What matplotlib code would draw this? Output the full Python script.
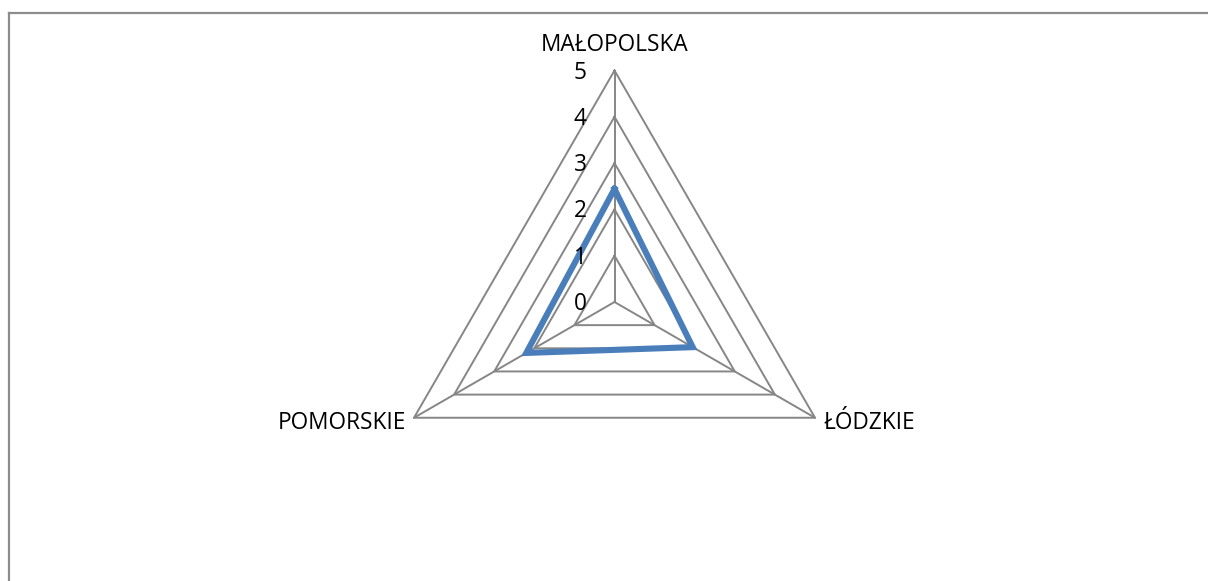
import numpy as np
import matplotlib
matplotlib.use("Agg")
import matplotlib.pyplot as plt
from matplotlib.lines import Line2D

categories = ["MAŁOPOLSKA", "ŁÓDZKIE", "POMORSKIE"]
values = [2.44, 1.95, 2.2]
levels = [0, 1, 2, 3, 4, 5]
level_labels = ["0", "1", "2", "3", "4", "5"]

W, H, DPI = 1208, 581, 100
fig = plt.figure(figsize=(W / DPI, H / DPI), dpi=DPI)
ax = fig.add_axes([0, 0, 1, 1])

# pixel geometry
cx, cy = 614.5, 302.0      # centre (from top)
unit = 46.3                 # pixels per value unit
ax.set_xlim(-cx / unit, (W - cx) / unit)
ax.set_ylim(-(H - cy) / unit, cy / unit)
ax.axis("off")

FONT = "Open Sans"
FS = 16.3
grid_col = "#868686"
n = len(categories)
angles = np.pi / 2 - 2 * np.pi * np.arange(n) / n

def xy(r, a):
    return r * np.cos(a), r * np.sin(a)

# concentric triangles
for lv in levels[1:]:
    xs, ys = xy(lv, np.append(angles, angles[0]))
    ax.plot(xs, ys, color=grid_col, lw=1.4, solid_joinstyle="miter", zorder=1)
# spokes
rmax = levels[-1]
for a in angles:
    x1, y1 = xy(rmax, a)
    ax.plot([0, x1], [0, y1], color=grid_col, lw=1.4, zorder=1)

# data series
vals = np.array(values)
xs, ys = xy(np.append(vals, vals[0]), np.append(angles, angles[0]))
ax.plot(xs, ys, color="#4a7ebb", lw=4.4, solid_joinstyle="miter", zorder=3)

# axis value labels
for lv, lab in zip(levels, level_labels):
    ax.annotate(lab, (0, lv), xytext=(-20, -1.5), textcoords="offset points",
                ha="right", va="center", fontsize=FS, family=FONT, color="#000000", zorder=4)

# category labels
offs = [((0, 14), "center", "baseline"), ((6, -4), "left", "center"), ((-6, -4), "right", "center")]
for cat, a, (off, ha, va) in zip(categories, angles, offs):
    x1, y1 = xy(rmax, a)
    ax.annotate(cat, (x1, y1), xytext=off, textcoords="offset points",
                ha=ha, va=va, fontsize=FS, family=FONT, color="#000000")

# outer frame (top and left edges visible)
fig.add_artist(Line2D([9 / W, 1.0], [1 - 13 / H, 1 - 13 / H], transform=fig.transFigure,
                      color="#8c8c8c", lw=1.6))
fig.add_artist(Line2D([9 / W, 9 / W], [1 - 13 / H, 0], transform=fig.transFigure,
                      color="#8c8c8c", lw=1.6))

fig.savefig("out.png", dpi=DPI, facecolor="white")
